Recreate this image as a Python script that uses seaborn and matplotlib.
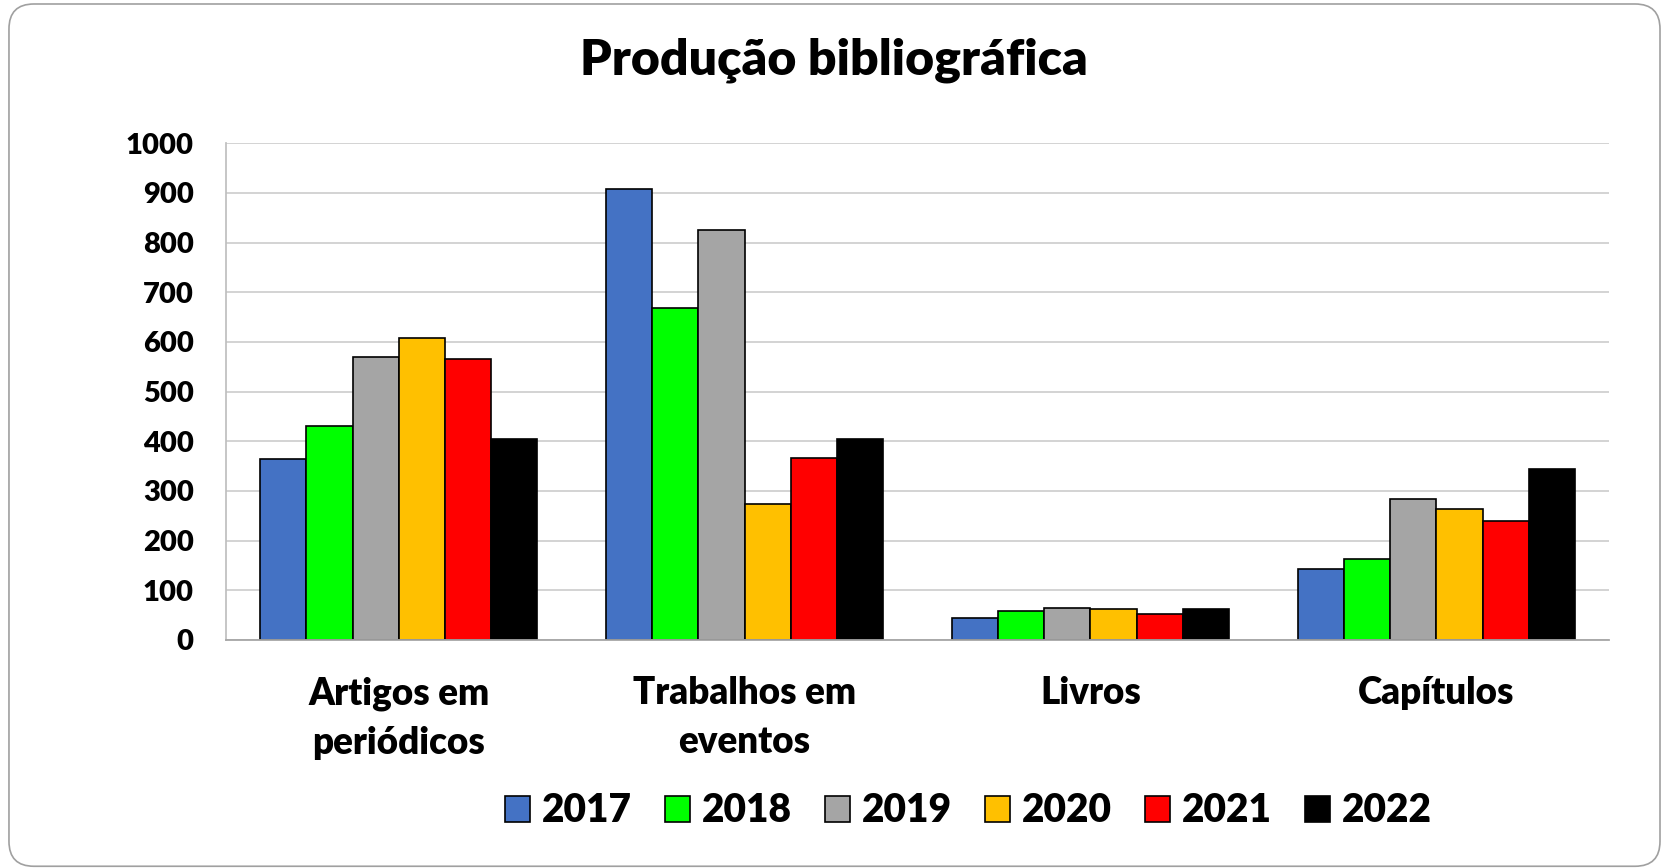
import matplotlib.pyplot as plt
import seaborn as sns
import pandas as pd
from matplotlib.patches import FancyBboxPatch

categories = ["Artigos em\nperiódicos", "Trabalhos em\neventos", "Livros", "Capítulos"]
years = ["2017", "2018", "2019", "2020", "2021", "2022"]
artigos = [365, 430, 569, 609, 565, 404]
trabalhos = [908, 668, 825, 273, 367, 405]
livros = [45, 58, 65, 62, 52, 62]
capitulos = [143, 164, 284, 263, 240, 345]
colors = ["#4472C4", "#00FF00", "#A5A5A5", "#FFC000", "#FF0000", "#000000"]

# long format for seaborn
rows = []
for cat, vals in zip(categories, [artigos, trabalhos, livros, capitulos]):
    for year, v in zip(years, vals):
        rows.append({"categoria": cat, "ano": year, "valor": v})
df = pd.DataFrame(rows)

sns.set_theme(style="white")
plt.rcParams['font.family'] = ['Lato', 'DejaVu Sans']
plt.rcParams['font.weight'] = 'bold'
plt.rcParams['text.color'] = 'black'
plt.rcParams['xtick.color'] = 'black'
plt.rcParams['ytick.color'] = 'black'

fig = plt.figure(figsize=(16.61, 8.68), dpi=100)
ax = fig.add_axes([0.1359, 0.2627, 0.833, 0.5722])

sns.barplot(data=df, x="categoria", y="valor", hue="ano", palette=colors,
            order=categories, hue_order=years, width=0.8, saturation=1,
            edgecolor="black", linewidth=1.2, ax=ax, legend=True)

ax.set_ylim(0, 1000)
ax.set_yticks(range(0, 1001, 100))
ax.yaxis.grid(True, color="#d0d0d0", linewidth=1.3)
ax.set_axisbelow(True)
for s in ["top", "right"]:
    ax.spines[s].set_visible(False)
ax.spines["left"].set_color("#bfbfbf")
ax.spines["bottom"].set_color("#a6a6a6")
ax.spines["bottom"].set_linewidth(1.3)
ax.set_xlabel("")
ax.set_ylabel("")
ax.tick_params(axis="y", length=0, pad=23, labelsize=21)
ax.tick_params(axis="x", length=0, pad=26, labelsize=26.5)
for lbl in ax.get_xticklabels() + ax.get_yticklabels():
    lbl.set_fontweight("heavy")
for lbl in ax.get_xticklabels():
    lbl.set_linespacing(1.55)

fig.text(0.502, 0.9136, "Produção bibliográfica", fontsize=36, fontweight="heavy",
         ha="center", va="baseline")

handles, labels = ax.get_legend_handles_labels()
ax.get_legend().remove()
fig.legend(handles, labels, loc="center", bbox_to_anchor=(0.583, 0.0657), ncol=6,
           frameon=False, prop={"size": 28, "weight": "heavy"},
           handlelength=0.64, handleheight=0.64, handletextpad=0.31, columnspacing=0.85)

# rounded border around the whole chart
frame = FancyBboxPatch((0.0054, 0.002), 0.994, 0.9934, boxstyle="round,pad=0,rounding_size=0.015",
                       transform=fig.transFigure, fill=False, edgecolor="#a0a0a0",
                       linewidth=1.2, mutation_aspect=1661 / 868)
fig.patches.append(frame)

plt.savefig("out.png", dpi=100)
plt.close()
